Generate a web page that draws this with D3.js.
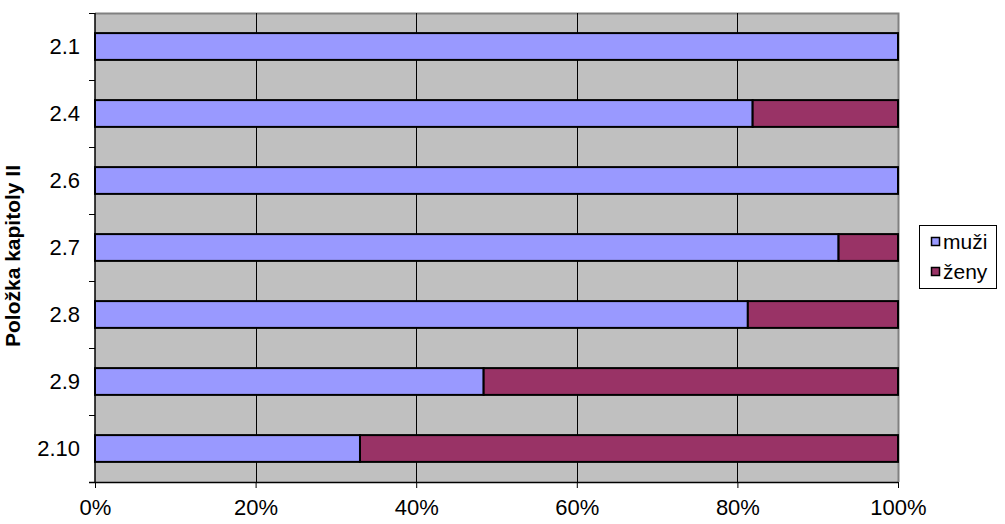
<!DOCTYPE html>
<html><head><meta charset="utf-8">
<script src="https://cdn.jsdelivr.net/npm/d3@7"></script>
<style>body{margin:0;background:#fff;}svg{display:block;font-family:"Liberation Sans",Arial,sans-serif;}</style>
</head><body>
<script>
const categories = ["2.1","2.4","2.6","2.7","2.8","2.9","2.10"];
const muzi = [1.0, 0.819, 1.0, 0.926, 0.813, 0.484, 0.33];
const zeny = [0.0, 0.181, 0.0, 0.074, 0.187, 0.516, 0.67];
const seriesNames = ["muži","ženy"];
const colors = ["#9999FF","#993366"];
const xTicks = [0,0.2,0.4,0.6,0.8,1.0];

const W=1005,H=524;
const m={l:95,r:898,t:13,b:482};
const FS=22;
const svg=d3.select("body").append("svg").attr("width",W).attr("height",H);
const x=d3.scaleLinear().domain([0,1]).range([m.l,m.r]);
const y=d3.scaleBand().domain(categories).range([m.t,m.b]).paddingInner(0.6).paddingOuter(0.3);
const yb=d3.scaleBand().domain(categories).range([m.t,m.b]);

svg.append("rect").attr("x",m.l).attr("y",m.t).attr("width",m.r-m.l).attr("height",m.b-m.t).attr("fill","#C0C0C0");
svg.append("path").attr("d",`M${m.l},${m.t+0.5}H${m.r+0.5}V${m.b}`).attr("fill","none").attr("stroke","#808080").attr("stroke-width",2);
svg.append("g").selectAll("line").data(xTicks.slice(1,-1)).join("line")
  .attr("x1",d=>Math.round(x(d))+0.5).attr("x2",d=>Math.round(x(d))+0.5).attr("y1",m.t).attr("y2",m.b)
  .attr("stroke","#000").attr("stroke-width",1);

const stack=categories.map((c,i)=>({c,vals:[muzi[i],zeny[i]]}));
const g=svg.append("g");
stack.forEach(s=>{
  let acc=0;
  s.vals.forEach((v,j)=>{
    if(v>0){
      g.append("rect").attr("x",x(acc)).attr("y",y(s.c)).attr("width",x(acc+v)-x(acc)).attr("height",y.bandwidth())
        .attr("fill",colors[j]).attr("stroke","#000").attr("stroke-width",2);
    }
    acc+=v;
  });
});

const xa=svg.append("g").attr("transform",`translate(0,${m.b})`)
  .call(d3.axisBottom(x).tickValues(xTicks).tickFormat(d3.format(".0%")).tickSize(6).tickPadding(11));
xa.attr("font-size",null).attr("font-family",null);
xa.select(".domain").attr("stroke","#000").attr("stroke-width",1.5).attr("d",`M${m.l-6},0.5H${m.r}`);
xa.selectAll("text").style("font-size",FS+"px").attr("fill","#000");

const yTickVals=d3.range(categories.length+1).map(i=>m.t+i*yb.step());
const ya=svg.append("g");
ya.append("line").attr("x1",m.l).attr("x2",m.l).attr("y1",m.t).attr("y2",m.b).attr("stroke","#000").attr("stroke-width",1.5);
ya.selectAll("line.t").data(yTickVals).join("line").attr("class","t")
  .attr("x1",m.l-6).attr("x2",m.l).attr("y1",d=>Math.round(d)+0.5).attr("y2",d=>Math.round(d)+0.5).attr("stroke","#000");
ya.selectAll("text").data(categories).join("text")
  .attr("x",m.l-15).attr("y",d=>yb(d)+yb.bandwidth()/2).attr("dy","0.35em")
  .attr("text-anchor","end").style("font-size",FS+"px").text(d=>d);

svg.append("text").attr("transform",`translate(20,256) rotate(-90)`)
  .attr("text-anchor","middle").style("font-size","21px").attr("font-weight","bold").text("Položka kapitoly II");

const lg=svg.append("g");
lg.append("rect").attr("x",919.5).attr("y",225.5).attr("width",77).attr("height",63).attr("fill","#fff").attr("stroke","#000");
seriesNames.forEach((n,i)=>{
  const cy=242+i*30;
  lg.append("rect").attr("x",931.5).attr("y",cy-4.5).attr("width",8).attr("height",8).attr("fill",colors[i]).attr("stroke","#000").attr("stroke-width",1.5);
  lg.append("text").attr("x",943).attr("y",cy).attr("dy","0.35em").style("font-size","21px").text(n);
});
</script>
</body></html>
